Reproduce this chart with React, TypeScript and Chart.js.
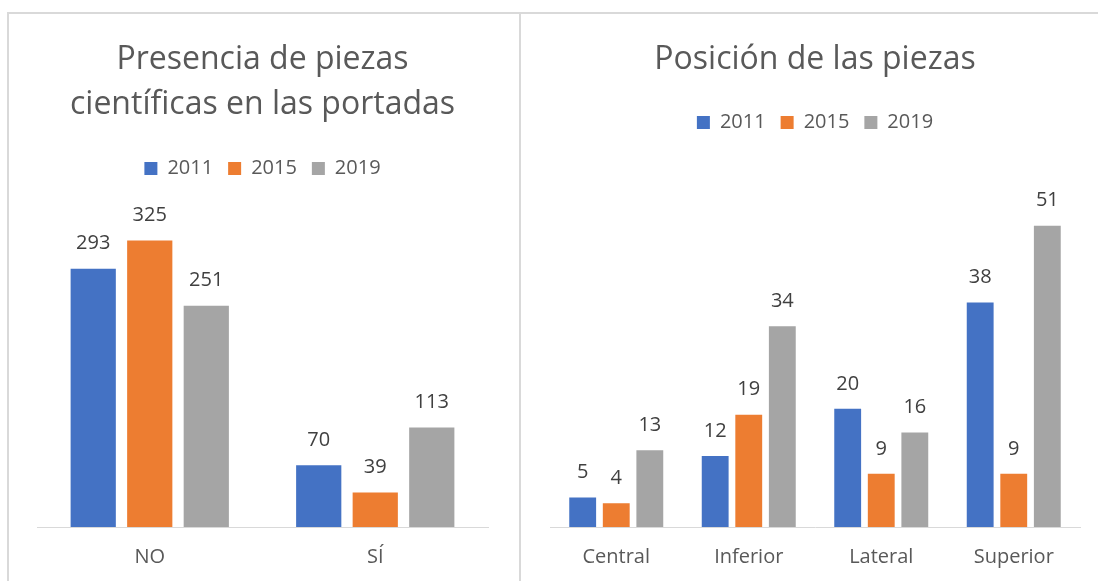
import React, { useEffect, useRef } from "react";
import { Chart, registerables } from "chart.js";

Chart.register(...registerables);

const seriesNames = ["2011", "2015", "2019"];
const colors = ["#4472C4", "#ED7D31", "#A5A5A5"];

const leftCategories = ["NO", "SÍ"];
const left2011 = [293, 70];
const left2015 = [325, 39];
const left2019 = [251, 113];

const rightCategories = ["Central", "Inferior", "Lateral", "Superior"];
const right2011 = [5, 12, 20, 38];
const right2015 = [4, 19, 9, 9];
const right2019 = [13, 34, 16, 51];

const FONT = "'Open Sans'";
const TEXT = "#595959";

const labelPlugin = {
  id: "barLabels",
  afterDatasetsDraw(chart: any) {
    const ctx = chart.ctx;
    ctx.save();
    ctx.font = `20px ${FONT}`;
    ctx.fillStyle = "#404040";
    ctx.textAlign = "center";
    ctx.textBaseline = "middle";
    chart.data.datasets.forEach((ds: any, i: number) => {
      const meta = chart.getDatasetMeta(i);
      meta.data.forEach((bar: any, j: number) => {
        ctx.fillText(String(ds.data[j]), bar.x, bar.y - 25);
      });
    });
    ctx.restore();
  },
};

function makeConfig(
  title: string | string[],
  categories: string[],
  values: number[][],
  opts: { max: number; padL: number; padR: number; padB: number; titlePadTop: number; titlePadBottom: number; cat: number; bar: number }
): any {
  return {
    type: "bar",
    data: {
      labels: categories,
      datasets: values.map((v, i) => ({
        label: seriesNames[i],
        data: v,
        backgroundColor: colors[i],
        borderWidth: 0,
        categoryPercentage: opts.cat,
        barPercentage: opts.bar,
      })),
    },
    options: {
      animation: false,
      responsive: false,
      maintainAspectRatio: false,
      layout: { padding: { left: opts.padL, right: opts.padR, bottom: opts.padB, top: 0 } },
      plugins: {
        title: {
          display: true,
          text: title,
          color: TEXT,
          font: { family: FONT, size: 32, weight: "normal", lineHeight: "45px" },
          padding: { top: opts.titlePadTop, bottom: opts.titlePadBottom },
        },
        legend: {
          display: true,
          labels: {
            color: TEXT,
            font: { family: FONT, size: 20, lineHeight: "19px" },
            boxWidth: 13,
            boxHeight: 13,
            padding: 15,
          },
        },
        tooltip: { enabled: false },
      },
      scales: {
        x: {
          grid: { display: false, drawTicks: false },
          border: { display: true, color: "#d9d9d9", width: 1 },
          ticks: { color: TEXT, font: { family: FONT, size: 20, lineHeight: "23px" }, padding: 19 },
        },
        y: {
          display: false,
          min: 0,
          max: opts.max,
        },
      },
    },
    plugins: [labelPlugin],
  };
}

function ChartCanvas(props: { config: any; width: number; height: number; style: React.CSSProperties }) {
  const ref = useRef<HTMLCanvasElement | null>(null);
  useEffect(() => {
    if (!ref.current) return;
    const chart = new Chart(ref.current, props.config);
    return () => chart.destroy();
  }, []);
  return <canvas ref={ref} width={props.width} height={props.height} style={{ position: "fixed", ...props.style }} />;
}

export default function App() {
  const leftConfig = makeConfig(
    ["Presencia de piezas", "científicas en las portadas"],
    leftCategories,
    [left2011, left2015, left2019],
    { max: 384, padL: 28, padR: 29, padB: -7, titlePadTop: 23, titlePadBottom: 16.5, cat: 0.752, bar: 0.8 }
  );
  const rightConfig = makeConfig(
    "Posición de las piezas",
    rightCategories,
    [right2011, right2015, right2019],
    { max: 65.1, padL: 29, padR: 18, padB: -7, titlePadTop: 23.5, titlePadBottom: 15, cat: 0.76, bar: 0.8 }
  );
  return (
    <div>
      <div
        style={{
          position: "fixed",
          left: 7,
          top: 12,
          width: 510,
          height: 580,
          borderTop: "2px solid #d9d9d9",
          borderLeft: "2px solid #d9d9d9",
          borderRight: "2px solid #d9d9d9",
        }}
      />
      <div
        style={{
          position: "fixed",
          left: 519,
          top: 12,
          width: 600,
          height: 580,
          borderTop: "2px solid #d9d9d9",
          borderLeft: "2px solid #d9d9d9",
        }}
      />
      <ChartCanvas config={leftConfig} width={508} height={567} style={{ left: 9, top: 14 }} />
      <ChartCanvas config={rightConfig} width={577} height={567} style={{ left: 521, top: 14 }} />
    </div>
  );
}
